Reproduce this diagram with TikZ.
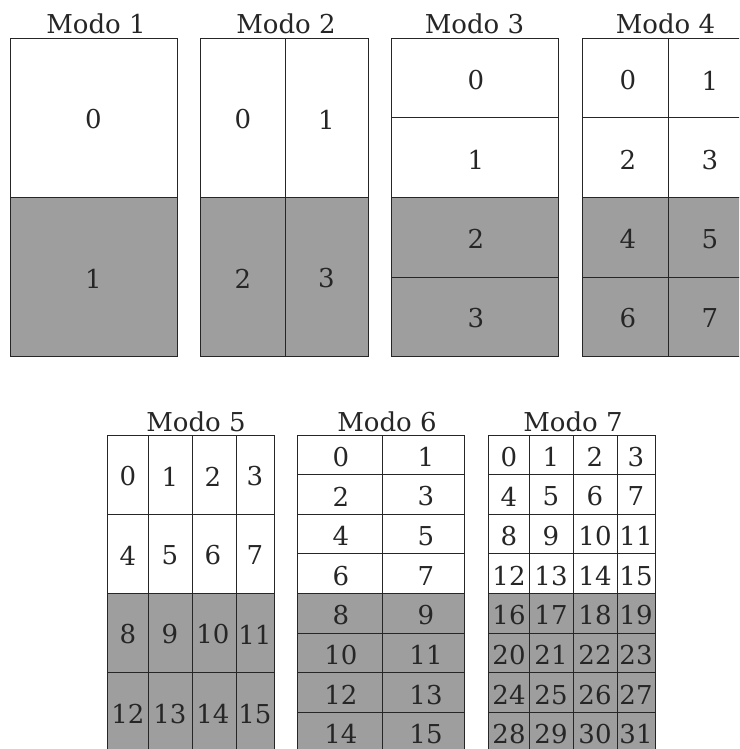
\documentclass[tikz,border=0pt]{standalone}
\usepackage{fontspec}
\setmainfont{DejaVu Serif}
\usepackage{xcolor}
\definecolor{cinza}{RGB}{158,158,158}
\definecolor{linha}{RGB}{38,38,38}

\begin{document}
\begin{tikzpicture}[x=1pt,y=-1pt,
grade/.style={draw=linha,line width=0.9pt},
num/.style={font=\fontsize{26}{30}\selectfont,text=linha,inner sep=0pt,yshift=-2pt},
titulo/.style={font=\fontsize{26}{30}\selectfont,text=linha,anchor=base,inner sep=0pt}]
\useasboundingbox(0,0) rectangle (739,749);
\clip(0,0) rectangle (739,749);
% Modo 1
\fill[cinza](10,197) rectangle (177,356);
\draw[grade](10,38) rectangle (177,356)
(10,197)--(177,197);
\node[titulo](t1) at (96,34){Modo 1};
\node[num](m1-0) at (93.5,117.5){0};
\node[num](m1-1) at (93.5,276.5){1};
% Modo 2
\fill[cinza](200,197) rectangle (368,356);
\draw[grade](200,38) rectangle (368,356)
(200,197)--(368,197)
(285,38)--(285,356);
\node[titulo](t2) at (286,34){Modo 2};
\foreach \n/\cx/\cy in {0/243/117.5,1/326.5/117.5,2/243/276.5,3/326.5/276.5}
  \node[num](m2-\n) at (\cx,\cy){\n};
% Modo 3
\fill[cinza](391,197) rectangle (558,356);
\draw[grade](391,38) rectangle (558,356)
(391,117)--(558,117)
(391,197)--(558,197)
(391,277)--(558,277);
\node[titulo](t3) at (474.5,34){Modo 3};
\foreach \n/\cy in {0/78.5,1/158,2/237,3/316.5}
  \node[num](m3-\n) at (476,\cy){\n};
% Modo 4
\fill[cinza](582,197) rectangle (749,356);
\draw[grade](582,38) rectangle (749,356)
(582,117)--(749,117)
(582,197)--(749,197)
(582,277)--(749,277)
(668,38)--(668,356);
\node[titulo](t4) at (665.5,34){Modo 4};
\foreach \i/\cy in {0/78.5,1/158,2/237,3/316.5}
  \foreach \j/\cx in {0/628,1/710}{
    \pgfmathtruncatemacro\n{2*\i+\j}
    \node[num](m4-\n) at (\cx,\cy){\n};
  }
% Modo 5
\fill[cinza](107,593) rectangle (274,752);
\draw[grade](107,435) rectangle (274,752)
(107,514)--(274,514)
(107,593)--(274,593)
(107,672)--(274,672)
(148,435)--(148,752)
(192,435)--(192,752)
(236,435)--(236,752);
\node[titulo](t5) at (196,431){Modo 5};
\foreach \i/\cy in {0/474.5,1/553.5,2/632.5,3/712}
  \foreach \j/\cx in {0/128,1/170,2/213,3/255}{
    \pgfmathtruncatemacro\n{4*\i+\j}
    \node[num](m5-\n) at (\cx,\cy){\n};
  }
% Modo 6
\fill[cinza](297,593.5) rectangle (464,752);
\draw[grade](297,435) rectangle (464,752)
(382,435)--(382,752);
\foreach \k in {1,...,7}
  \draw[grade](297,435+39.625*\k)--(464,435+39.625*\k);
\node[titulo](t6) at (387,431){Modo 6};
\foreach \i in {0,...,7}
  \foreach \j/\cx in {0/341,1/426}{
    \pgfmathtruncatemacro\n{2*\i+\j}
    \node[num](m6-\n) at (\cx,454.8+39.625*\i){\n};
  }
% Modo 7
\fill[cinza](488,593.5) rectangle (655,752);
\draw[grade](488,435) rectangle (655,752)
(529,435)--(529,752)
(573,435)--(573,752)
(617,435)--(617,752);
\foreach \k in {1,...,7}
  \draw[grade](488,435+39.625*\k)--(655,435+39.625*\k);
\node[titulo](t7) at (573,431){Modo 7};
\foreach \i in {0,...,7}
  \foreach \j/\cx in {0/509,1/551,2/595,3/636}{
    \pgfmathtruncatemacro\n{4*\i+\j}
    \node[num](m7-\n) at (\cx,454.8+39.625*\i){\n};
  }
\end{tikzpicture}
\end{document}
